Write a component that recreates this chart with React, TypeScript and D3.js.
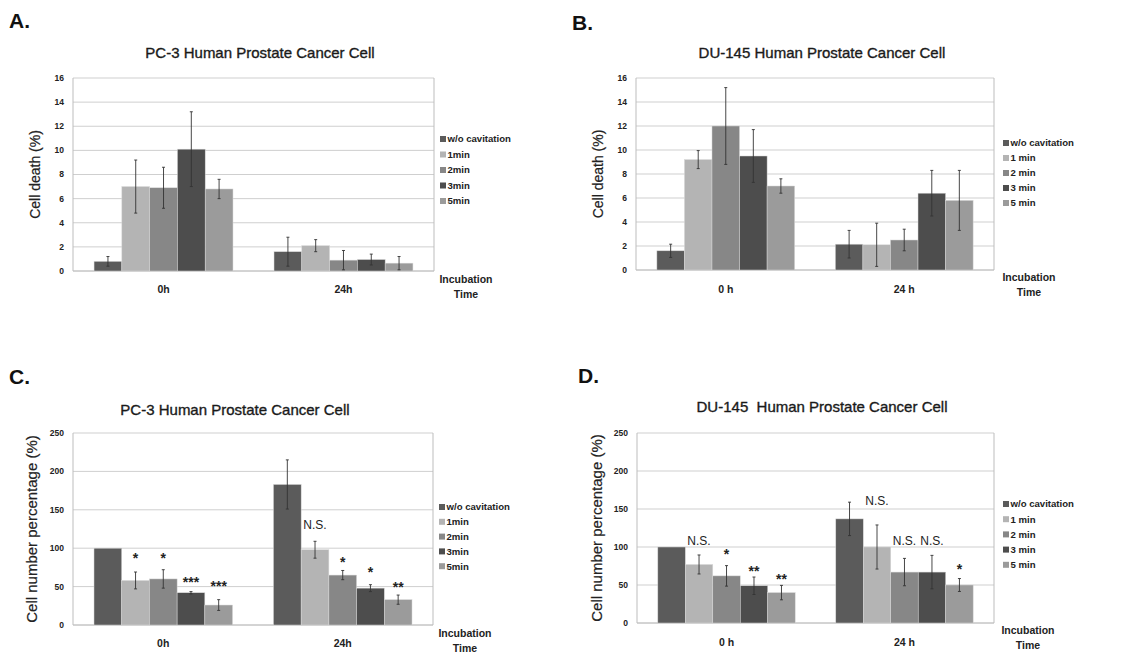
import React from "react";
import * as d3 from "d3";

// ---------- DATA ----------
const seriesAC = ["w/o cavitation", "1min", "2min", "3min", "5min"];
const seriesBD = ["w/o cavitation", "1 min", "2 min", "3 min", "5 min"];
const categoriesAC = ["0h", "24h"];
const categoriesBD = ["0 h", "24 h"];
const seriesColors = ["#5b5b5b", "#b4b4b4", "#878787", "#4d4d4d", "#9b9b9b"];

const ticksDeath = [0, 2, 4, 6, 8, 10, 12, 14, 16];
const ticksNumber = [0, 50, 100, 150, 200, 250];

// Panel A: PC-3 cell death (%)  [category][series]
const valuesA = [
  [0.8, 7.0, 6.9, 10.1, 6.8],
  [1.6, 2.1, 0.9, 0.95, 0.65],
];
const errorsA = [
  [0.4, 2.2, 1.7, 3.1, 0.8],
  [1.2, 0.5, 0.8, 0.45, 0.55],
];

// Panel B: DU-145 cell death (%)
const valuesB = [
  [1.6, 9.2, 12.0, 9.5, 7.0],
  [2.15, 2.1, 2.5, 6.4, 5.8],
];
const errorsB = [
  [0.55, 0.75, 3.2, 2.2, 0.6],
  [1.15, 1.8, 0.9, 1.9, 2.5],
];

// Panel C: PC-3 cell number percentage (%)
const valuesC = [
  [100, 58, 60, 42, 26],
  [183, 98, 65, 48, 33],
];
const errorsC = [
  [0, 11, 12, 1.5, 7],
  [32, 11, 6, 4.5, 6],
];
const annotTextC = [
  ["", "*", "*", "***", "***"],
  ["", "N.S.", "*", "*", "**"],
];
const annotLevelC = [
  [0, 94, 94, 62, 58],
  [0, 131, 88, 75, 56],
];

// Panel D: DU-145 cell number percentage (%)
const valuesD = [
  [100, 77, 62, 49, 40],
  [137, 100, 67, 67, 50],
];
const errorsD = [
  [0, 12.5, 13.5, 11.5, 9.5],
  [22, 29, 18, 22, 8.5],
];
const annotTextD = [
  ["", "N.S.", "*", "**", "**"],
  ["", "N.S.", "N.S.", "N.S.", "*"],
];
const annotLevelD = [
  [0, 108, 97, 75, 64],
  [0, 161, 108, 108, 78],
];

// ---------- LAYOUT ----------
type Panel = {
  letter: string;
  title: string;
  yTitle: string;
  yTitleSize: number;
  series: string[];
  categories: string[];
  values: number[][];
  errors: number[][];
  annotText?: string[][];
  annotLevel?: number[][];
  ticks: number[];
  yMax: number;
  left: number;
  right: number;
  top: number;
  bottom: number;
  letterX: number;
  letterY: number;
  titleX: number;
  titleY: number;
  yTitleX: number;
  legendX: number;
  legendY0: number;
  legendStep: number;
  incX: number;
  incY: number;
  catY: number;
};

const panels: Panel[] = [
  {
    letter: "A.", title: "PC-3 Human Prostate Cancer Cell", yTitle: "Cell death (%)", yTitleSize: 14,
    series: seriesAC, categories: categoriesAC, values: valuesA, errors: errorsA,
    ticks: ticksDeath, yMax: 16,
    left: 73, right: 434, top: 78, bottom: 271,
    letterX: 9, letterY: 28, titleX: 260, titleY: 58, yTitleX: 40,
    legendX: 440, legendY0: 139, legendStep: 15.5, incX: 466, incY: 283, catY: 293,
  },
  {
    letter: "B.", title: "DU-145 Human Prostate Cancer Cell", yTitle: "Cell death (%)", yTitleSize: 14,
    series: seriesBD, categories: categoriesBD, values: valuesB, errors: errorsB,
    ticks: ticksDeath, yMax: 16,
    left: 636, right: 994, top: 78, bottom: 270,
    letterX: 572, letterY: 30, titleX: 822, titleY: 58, yTitleX: 603,
    legendX: 1003, legendY0: 143, legendStep: 15, incX: 1029, incY: 281, catY: 293,
  },
  {
    letter: "C.", title: "PC-3 Human Prostate Cancer Cell", yTitle: "Cell number percentage (%)", yTitleSize: 15,
    series: seriesAC, categories: categoriesAC, values: valuesC, errors: errorsC,
    annotText: annotTextC, annotLevel: annotLevelC,
    ticks: ticksNumber, yMax: 250,
    left: 73, right: 433, top: 433, bottom: 625,
    letterX: 9, letterY: 384, titleX: 235, titleY: 415, yTitleX: 37,
    legendX: 439, legendY0: 507, legendStep: 14.8, incX: 465, incY: 637, catY: 647,
  },
  {
    letter: "D.", title: "DU-145  Human Prostate Cancer Cell", yTitle: "Cell number percentage (%)", yTitleSize: 15,
    series: seriesBD, categories: categoriesBD, values: valuesD, errors: errorsD,
    annotText: annotTextD, annotLevel: annotLevelD,
    ticks: ticksNumber, yMax: 250,
    left: 637, right: 994, top: 433, bottom: 623,
    letterX: 578, letterY: 383, titleX: 822, titleY: 412, yTitleX: 602,
    legendX: 1003, legendY0: 504, legendStep: 15.2, incX: 1028, incY: 634, catY: 646,
  },
];

const FONT = "'Liberation Sans', Arial, Helvetica, sans-serif";

function PanelChart({ p }: { p: Panel }) {
  const y = d3.scaleLinear().domain([0, p.yMax]).range([p.bottom, p.top]);
  const x0 = d3
    .scaleBand<string>()
    .domain(p.categories)
    .range([p.left, p.right])
    .paddingInner(0.228)
    .paddingOuter(0.117);
  const x1 = d3
    .scaleBand<string>()
    .domain(p.series)
    .range([0, x0.bandwidth()])
    .padding(0);

  return (
    <g fontFamily={FONT}>
      <text x={p.letterX} y={p.letterY} fontSize={21} fontWeight="bold" fill="#111">
        {p.letter}
      </text>
      <text x={p.titleX} y={p.titleY} fontSize={15} textAnchor="middle" fill="#1a1a1a" stroke="#1a1a1a" strokeWidth={0.35} style={{ whiteSpace: "pre" }}>
        {p.title}
      </text>
      {/* gridlines */}
      {p.ticks.map((t) => (
        <line key={"g" + t} x1={p.left} x2={p.right} y1={y(t)} y2={y(t)} stroke={t === 0 ? "#a8a8a8" : "#cfcfcf"} strokeWidth={1} />
      ))}
      {/* frame */}
      <line x1={p.left} x2={p.left} y1={p.top} y2={p.bottom} stroke="#bdbdbd" />
      <line x1={p.right} x2={p.right} y1={p.top} y2={p.bottom} stroke="#bdbdbd" />
      {/* tick labels */}
      {p.ticks.map((t) => (
        <text key={"t" + t} x={p.left - 9} y={y(t)} dy="0.35em" fontSize={8.5} fontWeight="bold" textAnchor="end" fill="#222">
          {t}
        </text>
      ))}
      {/* y title */}
      <text
        transform={`translate(${p.yTitleX},${(p.top + p.bottom) / 2}) rotate(-90)`}
        fontSize={p.yTitleSize}
        textAnchor="middle"
        fill="#222"
        stroke="#222"
        strokeWidth={0.2}
      >
        {p.yTitle}
      </text>
      {/* bars */}
      {p.categories.map((c, ci) => (
        <g key={c} transform={`translate(${x0(c)},0)`}>
          {p.series.map((s, si) => {
            const v = p.values[ci][si];
            const e = p.errors[ci][si];
            const bx = x1(s)!;
            const cx = bx + x1.bandwidth() / 2;
            const txt = p.annotText ? p.annotText[ci][si] : "";
            const star = txt.startsWith("*");
            return (
              <g key={s}>
                <rect x={bx} y={y(v)} width={x1.bandwidth()} height={p.bottom - y(v)} fill={seriesColors[si]} stroke="#d8d8d8" strokeWidth={0.5} />
                {e > 0 && (
                  <g stroke="#333" strokeWidth={0.9}>
                    <line x1={cx} x2={cx} y1={y(v + e)} y2={y(Math.max(0, v - e))} />
                    <line x1={cx - 1.5} x2={cx + 1.5} y1={y(v + e)} y2={y(v + e)} />
                    <line x1={cx - 1.5} x2={cx + 1.5} y1={y(Math.max(0, v - e))} y2={y(Math.max(0, v - e))} />
                  </g>
                )}
                {txt && (
                  <text
                    x={cx}
                    y={y(p.annotLevel![ci][si])}
                    dy={star ? "0.72em" : "0.35em"}
                    fontSize={star ? 14 : 12}
                    fontWeight={star ? "bold" : "normal"}
                    textAnchor="middle"
                    fill="#222"
                  >
                    {txt}
                  </text>
                )}
              </g>
            );
          })}
          <text x={x0.bandwidth() / 2} y={p.catY} fontSize={10.5} fontWeight="bold" textAnchor="middle" fill="#222">
            {c}
          </text>
        </g>
      ))}
      {/* legend */}
      {p.series.map((s, si) => (
        <g key={"l" + s}>
          <rect x={p.legendX} y={p.legendY0 + si * p.legendStep - 3} width={6} height={6} fill={seriesColors[si]} />
          <text x={p.legendX + 7.5} y={p.legendY0 + si * p.legendStep} dy="0.35em" fontSize={9.6} fontWeight="bold" fill="#222">
            {s}
          </text>
        </g>
      ))}
      <text x={p.incX} y={p.incY} fontSize={10.5} fontWeight="bold" textAnchor="middle" fill="#222">
        Incubation
      </text>
      <text x={p.incX} y={p.incY + 14.5} fontSize={10.5} fontWeight="bold" textAnchor="middle" fill="#222">
        Time
      </text>
    </g>
  );
}

export default function App() {
  return (
    <div style={{ position: "absolute", left: 0, top: 0 }}>
      <svg width={1145} height={655} style={{ display: "block", background: "#fff" }}>
        <rect width={1145} height={655} fill="#fff" />
        {panels.map((p) => (
          <PanelChart key={p.letter} p={p} />
        ))}
      </svg>
    </div>
  );
}
